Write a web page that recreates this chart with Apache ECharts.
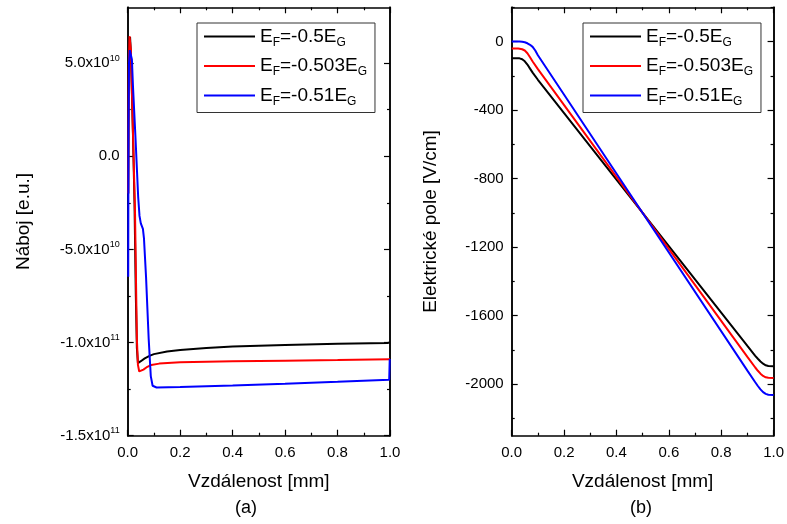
<!DOCTYPE html>
<html><head><meta charset="utf-8">
<script src="https://cdn.jsdelivr.net/npm/echarts@6/dist/echarts.min.js"></script>
<style>html,body{margin:0;padding:0;background:#fff}#c{width:787px;height:524px}</style>
</head><body><div id="c"></div>
<script>
// ---------- data ----------
const seriesNames = ['EF=-0.5EG', 'EF=-0.503EG', 'EF=-0.51EG'];
const legendLabels = ['E{sub|F}=-0.5E{sub|G}', 'E{sub|F}=-0.503E{sub|G}', 'E{sub|F}=-0.51E{sub|G}'];
const seriesColors = ['#000000', '#ff0000', '#0000ff'];

const xTicks = [0, 0.2, 0.4, 0.6, 0.8, 1.0];
const chargeTicks = [-1.5e11, -1.0e11, -5.0e10, 0, 5.0e10];
const chargeMinorTicks = [-1.25e11, -7.5e10, -2.5e10, 2.5e10];
const fieldTicks = [-2000, -1600, -1200, -800, -400, 0];
const fieldMinorTicks = [-2200, -1800, -1400, -1000, -600, -200, 200];

// (a) Náboj [e.u.] vs Vzdálenost [mm]
const chargeBlack = [[0.002,-2.0e10],[0.004,4.5e10],[0.007,6.2e10],[0.009,6.4e10],[0.012,5.6e10],[0.02,1.2e10],[0.026,-2.5e10],[0.031,-7.5e10],[0.035,-1.03e11],[0.039,-1.11e11],[0.042,-1.113e11],[0.05,-1.1e11],[0.065,-1.085e11],[0.085,-1.07e11],[0.1,-1.062e11],[0.15,-1.048e11],[0.2,-1.04e11],[0.3,-1.029e11],[0.4,-1.021e11],[0.5,-1.017e11],[0.6,-1.013e11],[0.8,-1.007e11],[0.99,-1.002e11],[1.0,-1.0e11]];
const chargeRed = [[0.002,-2.0e10],[0.004,4.8e10],[0.007,6.45e10],[0.009,6.5e10],[0.012,5.7e10],[0.02,1.3e10],[0.028,-3.1e10],[0.032,-7.0e10],[0.035,-9.8e10],[0.039,-1.12e11],[0.044,-1.155e11],[0.049,-1.159e11],[0.06,-1.145e11],[0.075,-1.13e11],[0.09,-1.12e11],[0.12,-1.113e11],[0.2,-1.106e11],[0.4,-1.1e11],[0.6,-1.097e11],[0.8,-1.094e11],[1.0,-1.09e11]];
const chargeBlue = [[0.002,-6.47e10],[0.003,1.5e10],[0.005,5.0e10],[0.008,5.7e10],[0.012,5.8e10],[0.016,5.2e10],[0.02,3.8e10],[0.03,0.9e10],[0.04,-2.2e10],[0.045,-3.2e10],[0.05,-3.6e10],[0.058,-3.9e10],[0.062,-4.4e10],[0.07,-6.5e10],[0.08,-9.8e10],[0.088,-1.18e11],[0.095,-1.232e11],[0.1,-1.239e11],[0.11,-1.241e11],[0.2,-1.238e11],[0.4,-1.23e11],[0.6,-1.221e11],[0.8,-1.211e11],[0.997,-1.2e11],[0.999,-1.088e11]];

// (b) Elektrické pole [V/cm] vs Vzdálenost [mm]
const fieldBlack = [[0,-97],[0.02,-97],[0.03,-98],[0.04,-103],[0.05,-115],[0.06,-134],[0.07,-158],[0.08,-181],[0.1,-223],[0.5,-1000],[0.9,-1776],[0.93,-1834],[0.94,-1851],[0.95,-1867],[0.96,-1880],[0.97,-1889],[0.98,-1893],[1.0,-1894]];
const fieldRed = [[0,-41],[0.025,-41],[0.03,-42],[0.04,-45],[0.05,-52],[0.06,-68],[0.07,-92],[0.08,-116],[0.1,-161],[0.5,-1000],[0.9,-1840],[0.93,-1902],[0.94,-1921],[0.95,-1938],[0.96,-1951],[0.97,-1959],[0.98,-1962],[1.0,-1963]];
const fieldBlue = [[0,0],[0.03,0],[0.04,-1],[0.05,-4],[0.06,-10],[0.07,-19],[0.08,-31],[0.09,-52],[0.1,-80],[0.5,-1000],[0.9,-1920],[0.93,-1988],[0.94,-2010],[0.95,-2030],[0.96,-2046],[0.97,-2056],[0.98,-2061],[1.0,-2063]];

// ---------- chart ----------
const FONT = 'Liberation Sans, Arial, sans-serif';
const BLK = '#000';
const chart = echarts.init(document.getElementById('c'), null, {renderer: 'canvas'});

function supLabel(v) {
  if (v === 0) return '0.0';
  const e = Math.floor(Math.log10(Math.abs(v)) + 1e-9);
  const m = v / Math.pow(10, e);
  return m.toFixed(1) + 'x10{sup|' + e + '}';
}
function xAxisDef(grid, pos, withLabel) {
  return {
    type: 'value', gridIndex: grid, position: pos, min: 0, max: 1, interval: 0.2,
    axisLine: {show: true, onZero: false, lineStyle: {color: BLK, width: 1.5}},
    axisTick: {show: true, inside: true, length: 6, lineStyle: {color: BLK, width: 1.2}},
    minorTick: {show: true, splitNumber: 2, length: 3, lineStyle: {color: BLK, width: 1.2}},
    splitLine: {show: false}, minorSplitLine: {show: false},
    axisLabel: {show: withLabel, color: BLK, fontSize: 15, fontFamily: FONT, margin: 10,
      formatter: v => v.toFixed(1)},
    name: withLabel ? 'Vzdálenost [mm]' : '', nameLocation: 'middle', nameGap: 37,
    nameTextStyle: {color: BLK, fontSize: 19, fontFamily: FONT}
  };
}
function yAxisDef(grid, pos, min, max, ticks, tickLen, withLabel, fmt, name, nameGap) {
  return {
    type: 'value', gridIndex: grid, position: pos, min: min, max: max,
    axisLine: {show: true, onZero: false, lineStyle: {color: BLK, width: 1.5}},
    axisTick: {show: true, inside: true, length: tickLen, customValues: ticks, lineStyle: {color: BLK, width: 1.2}},
    splitLine: {show: false},
    axisLabel: {show: withLabel, customValues: ticks, color: BLK, fontSize: 15, fontFamily: FONT, margin: 8,
      formatter: fmt,
      rich: {sup: {fontSize: 9, fontFamily: FONT, color: BLK, padding: [0, 0, 10, 0]}}},
    name: name || '', nameLocation: 'middle', nameGap: nameGap || 0,
    nameTextStyle: {color: BLK, fontSize: 19, fontFamily: FONT}
  };
}
const cMin = -1.5e11, cMax = 8e10, fMin = -2300, fMax = 200;

function mkSeries(name, data, color, xi, yi) {
  return {name: name, type: 'line', data: data, xAxisIndex: xi, yAxisIndex: yi,
    symbol: 'none', showSymbol: false, smooth: false, clip: true,
    lineStyle: {color: color, width: 2}, itemStyle: {color: color}};
}
function legendDef(left) {
  return {
    orient: 'vertical', left: left, top: 23, data: seriesNames, selectedMode: false,
    icon: 'rect', itemWidth: 51, itemHeight: 2.2, itemGap: 8, itemTextGap: 5,
    borderColor: '#333', borderWidth: 1, padding: [4, 8, 5, 7],
    formatter: n => legendLabels[seriesNames.indexOf(n)],
    textStyle: {color: BLK, fontSize: 19, fontFamily: FONT,
      rich: {sub: {fontSize: 12, fontFamily: FONT, color: BLK, padding: [12, 0, 0, 0]}}}
  };
}

chart.setOption({
  animation: false,
  backgroundColor: '#fff',
  grid: [
    {left: 127.7, right: 397, top: 7.3, bottom: 88.3, containLabel: false},
    {left: 511.7, right: 12, top: 7.3, bottom: 88.3, containLabel: false}
  ],
  xAxis: [xAxisDef(0, 'bottom', true), xAxisDef(0, 'top', false), xAxisDef(1, 'bottom', true), xAxisDef(1, 'top', false)],
  yAxis: [
    yAxisDef(0, 'left', cMin, cMax, chargeTicks, 6, true, supLabel, 'Náboj [e.u.]', 94),
    yAxisDef(0, 'left', cMin, cMax, chargeMinorTicks, 3, false),
    yAxisDef(0, 'right', cMin, cMax, chargeTicks, 6, false),
    yAxisDef(0, 'right', cMin, cMax, chargeMinorTicks, 3, false),
    yAxisDef(1, 'left', fMin, fMax, fieldTicks, 6, true, v => String(v), 'Elektrické pole [V/cm]', 71),
    yAxisDef(1, 'left', fMin, fMax, fieldMinorTicks, 3, false),
    yAxisDef(1, 'right', fMin, fMax, fieldTicks, 6, false),
    yAxisDef(1, 'right', fMin, fMax, fieldMinorTicks, 3, false)
  ],
  legend: [legendDef(197), legendDef(583)],
  series: [
    mkSeries(seriesNames[0], chargeBlack, seriesColors[0], 0, 0),
    mkSeries(seriesNames[1], chargeRed, seriesColors[1], 0, 0),
    mkSeries(seriesNames[2], chargeBlue, seriesColors[2], 0, 0),
    mkSeries(seriesNames[0], fieldBlack, seriesColors[0], 2, 4),
    mkSeries(seriesNames[1], fieldRed, seriesColors[1], 2, 4),
    mkSeries(seriesNames[2], fieldBlue, seriesColors[2], 2, 4)
  ],
  graphic: [
    {type: 'text', x: 246, y: 508, style: {text: '(a)', fill: BLK, font: '18px ' + FONT, align: 'center', verticalAlign: 'middle'}},
    {type: 'text', x: 641, y: 508, style: {text: '(b)', fill: BLK, font: '18px ' + FONT, align: 'center', verticalAlign: 'middle'}}
  ]
});
</script>
</body></html>
